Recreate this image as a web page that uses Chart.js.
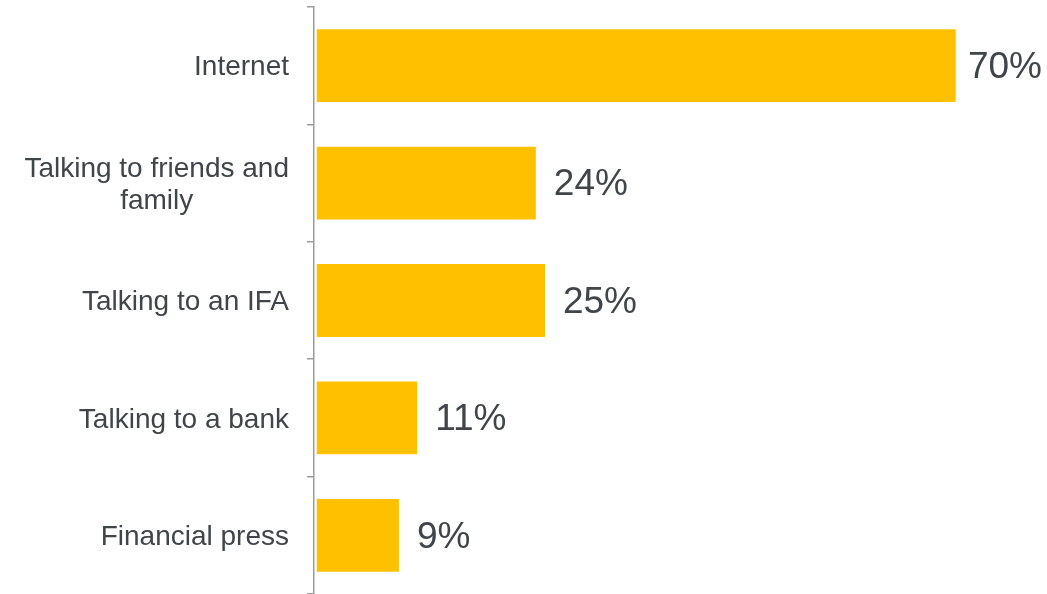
<!DOCTYPE html>
<html>
<head>
<meta charset="utf-8">
<script src="https://cdn.jsdelivr.net/npm/chart.js@4/dist/chart.umd.min.js"></script>
<style>
  html, body { margin: 0; padding: 0; background: #fff; }
  #wrap { width: 1047px; height: 594px; position: relative; }
</style>
</head>
<body>
<div id="wrap"><canvas id="barChart"></canvas></div>
<script>
// 카테고리 / 값
const categories = [
  'Internet',
  ['Talking to friends and', 'family'],
  'Talking to an IFA',
  'Talking to a bank',
  'Financial press'
];
const shares = [70, 24, 25, 11, 9];
const valueLabels = ['70%', '24%', '25%', '11%', '9%'];

const textColor = '#404549';
const axisColor = '#9b9b9b';
const fontFamily = '"Liberation Sans", Arial, sans-serif';

/**
 * 라벨 그리기 (카테고리 + 수치)
 */
const labelPlugin = {
  id: 'labelPlugin',
  afterDatasetsDraw(chart) {
    const ctx = chart.ctx;
    const yScale = chart.scales.y;
    const area = chart.chartArea;
    const meta = chart.getDatasetMeta(0);

    ctx.save();
    ctx.fillStyle = textColor;
    ctx.textBaseline = 'middle';

    // 카테고리 라벨 - 여러 줄은 가운데 정렬, 블록은 오른쪽 정렬
    ctx.font = '28px ' + fontFamily;
    const rightEdge = area.left - 25;
    const lineH = 32;
    categories.forEach((cat, i) => {
      const lines = Array.isArray(cat) ? cat : [cat];
      const cy = yScale.getPixelForTick(i) + 2;
      const blockW = Math.max(...lines.map(l => ctx.measureText(l).width));
      ctx.textAlign = 'center';
      lines.forEach((l, j) => {
        const y = cy + (j - (lines.length - 1) / 2) * lineH;
        ctx.fillText(l, rightEdge - blockW / 2, y);
      });
    });

    // 수치 라벨
    ctx.font = '37px ' + fontFamily;
    ctx.textAlign = 'left';
    meta.data.forEach((bar, i) => {
      const txt = valueLabels[i];
      const w = ctx.measureText(txt).width;
      let x = bar.x + 18;
      if (x + w > area.right - 5) x = area.right - 5 - w;
      ctx.fillText(txt, x, bar.y + 2);
    });
    ctx.restore();
  }
};

new Chart(document.getElementById('barChart'), {
  type: 'bar',
  data: {
    labels: categories,
    datasets: [{
      data: shares,
      backgroundColor: '#FFC000',
      borderWidth: 0,
      categoryPercentage: 1,
      barPercentage: 0.62
    }]
  },
  options: {
    indexAxis: 'y',
    responsive: true,
    maintainAspectRatio: false,
    animation: { duration: 0 },
    layout: { padding: { top: 7, right: 0, bottom: 0, left: 0 } },
    plugins: {
      legend: { display: false },
      tooltip: { enabled: false }
    },
    scales: {
      x: {
        display: false,
        min: -0.3,
        max: 80
      },
      y: {
        ticks: { display: false },
        grid: {
          offset: true,
          drawOnChartArea: false,
          drawTicks: true,
          tickLength: 7,
          color: axisColor,
          lineWidth: 1.5
        },
        border: { display: true, color: axisColor, width: 1.5 },
        afterFit(scale) {
          scale.width = 314;
        }
      }
    }
  },
  plugins: [labelPlugin]
});
</script>
</body>
</html>
